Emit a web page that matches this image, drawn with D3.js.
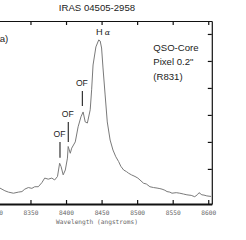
<!DOCTYPE html>
<html>
<head>
<meta charset="utf-8">
<script src="https://cdn.jsdelivr.net/npm/d3@7"></script>
<style>
  body { margin: 0; background: #fff; }
  svg { display: block; }
</style>
</head>
<body>
<script>
"use strict"

// spectrum (wavelength in A, flux in arbitrary units)
var wavelength = [8290, 8307, 8314, 8319, 8326, 8333, 8338, 8342, 8347, 8352,
                  8356, 8361, 8366, 8370, 8375, 8380, 8384, 8388, 8391, 8393,
                  8396, 8399, 8402, 8403, 8406, 8408, 8413, 8417, 8421, 8424,
                  8427, 8430, 8434, 8436, 8438, 8442, 8446, 8448, 8450, 8452,
                  8455, 8458, 8462, 8466, 8470, 8474, 8477, 8481, 8485, 8488,
                  8492, 8497, 8501, 8504, 8509, 8513, 8518, 8523, 8528, 8532,
                  8535, 8539, 8542, 8546, 8549, 8555, 8560, 8565, 8570, 8576,
                  8581, 8585, 8587, 8591, 8594, 8598, 8604];
var flux = [0.37, 0.29, 0.19, 0.14, 0.10, 0.14, 0.16, 0.25, 0.31, 0.28,
            0.34, 0.34, 0.49, 0.66, 0.62, 0.66, 0.59, 0.72, 1.21, 1.09,
            0.78, 0.96, 1.40, 1.83, 1.58, 1.77, 2.00, 2.56, 2.93, 3.11,
            2.74, 2.70, 3.19, 3.93, 4.85, 5.52, 5.78, 5.74, 5.48, 4.74,
            3.74, 2.74, 2.07, 1.70, 1.45, 1.27, 1.10, 0.96, 0.90, 0.84,
            0.78, 0.72, 0.66, 0.59, 0.47, 0.44, 0.34, 0.31, 0.29, 0.27,
            0.25, 0.21, 0.16, 0.14, 0.10, 0.12, 0.10, 0.07, 0.04, 0.02,
            -0.03, 0.05, 0.12, 0.04, 0.03, 0.00, -0.02];

var xTicks = [8300, 8350, 8400, 8450, 8500, 8550, 8600];
var yTicks = [1, 2, 3, 4, 5, 6];

// outflow markers: wavelength, bottom and top of the bar (flux units)
var ofWave = [8391.5, 8403.2, 8423];
var ofLow = [1.41, 2.0, 3.33];
var ofHigh = [2.0, 2.74, 3.89];

var width = 246, height = 240;

var svg = d3.select("body").append("svg")
            .attr("width", width)
            .attr("height", height);

var x = d3.scaleLinear().domain([8280, 8605]).range([-19.3, 211.8]);
var y = d3.scaleLinear().domain([-0.3, 6.48]).range([204, 21]);

// title
svg.append("text").attr("x", 97)
                  .attr("y", 10.7)
                  .attr("text-anchor", "middle")
                  .attr("font-family", "Liberation Sans, Arial, sans-serif")
                  .attr("font-size", 9.6)
                  .attr("fill", "#222")
                  .text("IRAS 04505-2958");

// axes (ticks point inward)
var axisB = svg.append("g").attr("transform", "translate(0," + y.range()[0] + ")")
    .call(d3.axisBottom(x).tickValues(xTicks).tickSizeInner(-4).tickSizeOuter(0)
            .tickPadding(7).tickFormat(d3.format("d")));
axisB.select(".domain").attr("stroke", "#111").attr("stroke-width", 2);
axisB.selectAll(".tick line").attr("stroke", "#111").attr("stroke-width", 1.2);
axisB.selectAll("text").attr("font-family", "DejaVu Sans Mono, monospace")
                       .attr("font-size", 6.2)
                       .attr("fill", "#666");

var axisT = svg.append("g").attr("transform", "translate(0," + y.range()[1] + ")")
    .call(d3.axisTop(x).tickValues(xTicks).tickSizeInner(-4).tickSizeOuter(0).tickFormat(""));
axisT.select(".domain").attr("stroke", "#111").attr("stroke-width", 1.2);
axisT.selectAll(".tick line").attr("stroke", "#111").attr("stroke-width", 1.2);

var axisR = svg.append("g").attr("transform", "translate(" + x.range()[1] + ",0)")
    .call(d3.axisRight(y).tickValues(yTicks).tickSizeInner(-4).tickSizeOuter(0).tickFormat(""));
axisR.select(".domain").attr("stroke", "#111").attr("stroke-width", 1.2);
axisR.selectAll(".tick line").attr("stroke", "#111").attr("stroke-width", 1.2);

svg.append("text").attr("x", 97)
                  .attr("y", 223.5)
                  .attr("text-anchor", "middle")
                  .attr("font-family", "DejaVu Sans Mono, monospace")
                  .attr("font-size", 6.2)
                  .attr("fill", "#666")
                  .text("Wavelength (angstroms)");

// spectrum
var line = d3.line()
             .x(function(d, i) { return x(wavelength[i]); })
             .y(function(d) { return y(d); });

svg.append("path").datum(flux)
                  .attr("d", line)
                  .attr("fill", "none")
                  .attr("stroke", "#7a7a7a")
                  .attr("stroke-width", 1);

// outflow bars and labels
svg.selectAll(".ofbar").data(ofWave).enter().append("line")
   .attr("class", "ofbar")
   .attr("x1", function(d) { return x(d); })
   .attr("x2", function(d) { return x(d); })
   .attr("y1", function(d, i) { return y(ofLow[i]); })
   .attr("y2", function(d, i) { return y(ofHigh[i]); })
   .attr("stroke", "#333")
   .attr("stroke-width", 1.2);

svg.selectAll(".oflabel").data(ofWave).enter().append("text")
   .attr("class", "oflabel")
   .attr("x", function(d) { return x(d) - 0.5; })
   .attr("y", function(d, i) { return y(ofHigh[i]) - 4.5; })
   .attr("text-anchor", "middle")
   .attr("font-family", "Liberation Sans, Arial, sans-serif")
   .attr("font-size", 8.6)
   .attr("fill", "#222")
   .text("OF");

// H alpha label
var ha = svg.append("text").attr("x", 96)
                           .attr("y", 35.3)
                           .attr("font-family", "Liberation Sans, Arial, sans-serif")
                           .attr("font-size", 9.2)
                           .attr("fill", "#222");
ha.append("tspan").text("H");
ha.append("tspan").attr("dx", 2).attr("font-family", "DejaVu Serif, serif")
                  .attr("font-style", "italic").attr("font-size", 8).text("\u03b1");

// panel letter and notes
svg.append("text").attr("x", -3.5)
                  .attr("y", 41.7)
                  .attr("font-family", "Liberation Sans, Arial, sans-serif")
                  .attr("font-size", 9.6)
                  .attr("fill", "#222")
                  .text("(a)");

var notes = ["QSO-Core", "Pixel 0.2\"", "(R831)"];
svg.selectAll(".note").data(notes).enter().append("text")
   .attr("class", "note")
   .attr("x", 153.3)
   .attr("y", function(d, i) { return 50.7 + i * 14.7; })
   .attr("font-family", "Liberation Sans, Arial, sans-serif")
   .attr("font-size", 9.6)
   .attr("fill", "#222")
   .text(function(d) { return d; });
</script>
</body>
</html>
